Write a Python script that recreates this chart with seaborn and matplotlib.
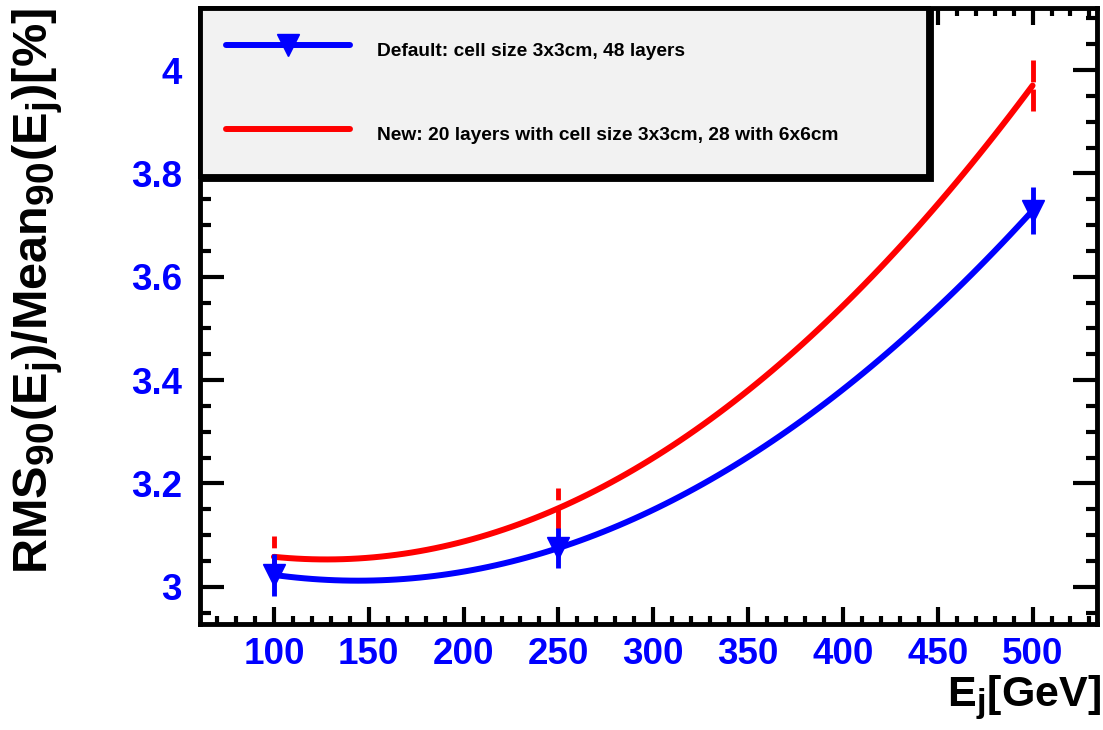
import numpy as np
import pandas as pd
import matplotlib
matplotlib.use('Agg')
import matplotlib.pyplot as plt
import matplotlib._mathtext as mathtext_internal
from matplotlib.lines import Line2D
from matplotlib.ticker import MultipleLocator
import seaborn as sns

# jet energy points and resolution values
energy = [100, 250, 500]
default_rms = [3.023, 3.075, 3.728]
default_err = [0.040, 0.038, 0.046]
new_rms = [3.058, 3.152, 3.970]
new_err = [0.040, 0.040, 0.050]

label_default = 'Default: cell size 3x3cm, 48 layers'
label_new = 'New: 20 layers with cell size 3x3cm, 28 with 6x6cm'

sns.set_style('ticks')
plt.rcParams['font.family'] = ['Liberation Sans', 'DejaVu Sans']
plt.rcParams['font.weight'] = 'bold'
plt.rcParams['text.color'] = 'black'
plt.rcParams['axes.labelcolor'] = 'black'
plt.rcParams['mathtext.fontset'] = 'custom'
plt.rcParams['mathtext.rm'] = 'Liberation Sans:bold'
plt.rcParams['mathtext.it'] = 'Liberation Sans:bold'
plt.rcParams['mathtext.bf'] = 'Liberation Sans:bold'
plt.rcParams['mathtext.default'] = 'rm'
# ROOT draws sub-indices a bit larger than mathtext does
mathtext_internal.SHRINK_FACTOR = 0.8

df_new = pd.DataFrame({'E': energy, 'rms': new_rms, 'err': new_err})
df_def = pd.DataFrame({'E': energy, 'rms': default_rms, 'err': default_err})

fig = plt.figure(figsize=(11.03, 7.30), dpi=100)
ax = fig.add_axes([0.1813, 0.1452, 0.8133, 0.8438])

# smooth curves through the three points (ROOT "C" style)
sns.regplot(data=df_new, x='E', y='rms', order=2, ci=None, scatter=False,
            truncate=True, color='red', line_kws={'lw': 4.3, 'zorder': 3}, ax=ax)
eb = ax.errorbar(df_new['E'], df_new['rms'], yerr=df_new['err'], fmt='none',
                 ecolor='red', elinewidth=3.5, capsize=0, zorder=3)
eb[2][0].set_linestyle((0, (4.5, 1.5)))

sns.regplot(data=df_def, x='E', y='rms', order=2, ci=None, scatter=False,
            truncate=True, color='blue', line_kws={'lw': 4.3, 'zorder': 4}, ax=ax)
eb = ax.errorbar(df_def['E'], df_def['rms'], yerr=df_def['err'], fmt='none',
                 ecolor='blue', elinewidth=3.5, capsize=0, zorder=4)
eb[2][0].set_linestyle((0, (4.5, 1.5)))
ax.plot(df_def['E'], df_def['rms'], ls='none', marker='v', ms=16,
        color='blue', zorder=5)

ax.set_xlim(61, 534)
ax.set_ylim(2.928, 4.12)

ax.xaxis.set_minor_locator(MultipleLocator(10))
ax.yaxis.set_minor_locator(MultipleLocator(0.05))
ax.set_xticks([100, 150, 200, 250, 300, 350, 400, 450, 500])
ax.set_xticklabels(['100', '150', '200', '250', '300', '350', '400', '450', '500'])
ax.set_yticks([3.0, 3.2, 3.4, 3.6, 3.8, 4.0])
ax.set_yticklabels(['3', '3.2', '3.4', '3.6', '3.8', '4'])

ax.tick_params(axis='both', which='both', direction='in', top=True, right=True,
               width=3, colors='black', labelcolor='blue', labelsize=26.5)
ax.tick_params(axis='x', which='major', length=12, pad=9)
ax.tick_params(axis='x', which='minor', length=6)
ax.tick_params(axis='y', which='major', length=17, pad=13)
ax.tick_params(axis='y', which='minor', length=8)
for lab in ax.get_xticklabels() + ax.get_yticklabels():
    lab.set_fontweight('bold')
for sp in ax.spines.values():
    sp.set_linewidth(3.5)
    sp.set_color('black')

ax.set_xlabel(r'$E_{j}[GeV]$', fontsize=31, loc='right')
ax.xaxis.set_label_coords(1.005, -0.08)
ax.set_ylabel(r'$RMS_{90}(E_{j})/Mean_{90}(E_{j})[\%]$', fontsize=35, loc='top')
ax.yaxis.set_label_coords(-0.15, 1.0)

handles = [
    Line2D([], [], color='blue', lw=4.3, marker='v', ms=16),
    Line2D([], [], color='red', lw=4.3),
]
leg = ax.legend(handles, [label_default, label_new], loc='upper left',
                bbox_to_anchor=(0, 0, 0.812, 1.0), mode='expand',
                borderaxespad=0, fontsize=13.8, handlelength=6.5,
                handleheight=2.2, handletextpad=1.4, labelspacing=2.7,
                borderpad=1.35, fancybox=False, framealpha=1,
                shadow={'color': 'black', 'alpha': 1})
leg.get_frame().set_facecolor('#f2f2f2')
leg.get_frame().set_edgecolor('black')
leg.get_frame().set_linewidth(3.5)
for t in leg.get_texts():
    t.set_fontweight('bold')

fig.savefig('out.png', dpi=100, facecolor='white')
